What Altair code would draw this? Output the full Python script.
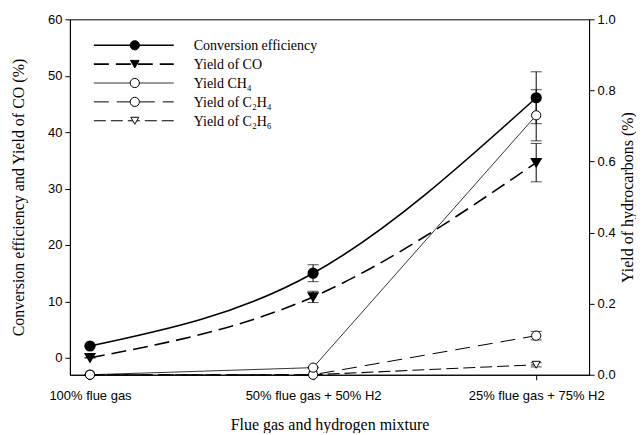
import altair as alt
import pandas as pd

# ---- data ----
mixtures = ["100% flue gas", "50% flue gas + 50% H2", "25% flue gas + 75% H2"]
conv = [2.1, 15.0, 46.1]
conv_err = [0.0, 1.5, 4.6]
co = [0.0, 10.8, 34.6]
co_err = [0.0, 1.0, 3.4]
ch4 = [0.0, 0.02, 0.73]
ch4_err = [0.0, 0.0, 0.072]
c2h4 = [0.0, 0.0, 0.11]
c2h4_err = [0.0, 0.0, 0.012]
c2h6 = [0.0, 0.0, 0.028]
c2h6_err = [0.0, 0.0, 0.006]

df = pd.DataFrame({"idx": list(range(len(mixtures))), "mix": mixtures})
for name, v, e in [("conv", conv, conv_err), ("co", co, co_err), ("ch4", ch4, ch4_err),
                   ("c2h4", c2h4, c2h4_err), ("c2h6", c2h6, c2h6_err)]:
    df[name] = v
    df[name + "_lo"] = [a - b for a, b in zip(v, e)]
    df[name + "_hi"] = [a + b for a, b in zip(v, e)]

label_js = "[" + ",".join("'" + m + "'" for m in mixtures) + "][datum.value]"

X = alt.X("idx:Q",
          scale=alt.Scale(domain=[-0.09, 2.237], nice=False, zero=False),
          axis=alt.Axis(values=[0, 1, 2], labelExpr=label_js, title="Flue gas and hydrogen mixture",
                        labelPadding=10, titlePadding=14))

axisL = alt.Axis(values=[0, 10, 20, 30, 40, 50, 60], title="Conversion efficiency and Yield of CO (%)",
                 titlePadding=21, labelPadding=3)
scaleL = alt.Scale(domain=[-3, 60], nice=False, zero=False)
axisR = alt.Axis(values=[0, 0.2, 0.4, 0.6, 0.8, 1.0], format=".1f", title="Yield of hydrocarbons (%)",
                 orient="right", titlePadding=4, titleAngle=270, titleBaseline="top", labelPadding=3)
scaleR = alt.Scale(domain=[0, 1], nice=False, zero=False)


def YL(f):
    return alt.Y(f + ":Q", scale=scaleL, axis=axisL)


def YR(f):
    return alt.Y(f + ":Q", scale=scaleR, axis=axisR)


base = alt.Chart(df)


def series(field, Yf, line_kw, point_kw, interp):
    line = base.mark_line(interpolate=interp, color="black", **line_kw).encode(x=X, y=Yf(field))
    rule = base.mark_rule(color="black", strokeWidth=1).encode(
        x=X, y=Yf(field + "_lo"), y2=alt.Y2(field + "_hi"))
    cap_lo = base.mark_tick(orient="horizontal", color="black", size=11, thickness=1).encode(
        x=X, y=Yf(field + "_lo"))
    cap_hi = base.mark_tick(orient="horizontal", color="black", size=11, thickness=1).encode(
        x=X, y=Yf(field + "_hi"))
    pts = base.mark_point(opacity=1, **point_kw).encode(x=X, y=Yf(field))
    return [line, rule, cap_lo, cap_hi, pts]


left_layers = []
left_layers += series("conv", YL, dict(strokeWidth=1.6),
                      dict(shape="circle", filled=True, fill="black", stroke="black", size=85), "natural")
left_layers += series("co", YL, dict(strokeWidth=1.6, strokeDash=[15, 7]),
                      dict(shape="triangle-down", filled=True, fill="black", stroke="black", size=75), "natural")

right_layers = []
right_layers += series("c2h6", YR, dict(strokeWidth=1.1, strokeDash=[12, 5]),
                       dict(shape="triangle-down", filled=True, fill="white", stroke="black", strokeWidth=1, size=65), "linear")
right_layers += series("c2h4", YR, dict(strokeWidth=1, strokeDash=[15, 8]),
                       dict(shape="circle", filled=True, fill="white", stroke="black", strokeWidth=1, size=85), "linear")
right_layers += series("ch4", YR, dict(strokeWidth=0.8),
                       dict(shape="circle", filled=True, fill="white", stroke="black", strokeWidth=1, size=85), "linear")

# ---- manual legend ----
legend_names = ["Conversion efficiency", "Yield of CO", "Yield CH\u2084", "Yield of C\u2082H\u2084", "Yield of C\u2082H\u2086"]
legend_line = [dict(strokeWidth=1.6), dict(strokeWidth=1.6, strokeDash=[15, 7]), dict(strokeWidth=0.8),
               dict(strokeWidth=1, strokeDash=[15, 8]), dict(strokeWidth=1.1, strokeDash=[12, 5])]
legend_mark = [dict(shape="circle", fill="black", size=85), dict(shape="triangle-down", fill="black", size=75),
               dict(shape="circle", fill="white", size=85), dict(shape="circle", fill="white", size=85),
               dict(shape="triangle-down", fill="white", size=65)]
one = alt.Data(values=[{"k": 1}])
legend_layers = []
for i, name in enumerate(legend_names):
    ypos = 26 + i * 18.9
    legend_layers.append(alt.Chart(one).mark_rule(color="black", **legend_line[i]).encode(
        x=alt.value(24), x2=alt.value(104), y=alt.value(ypos)))
    legend_layers.append(alt.Chart(one).mark_point(filled=True, stroke="black", strokeWidth=1, opacity=1,
                                                   **legend_mark[i]).encode(
        x=alt.value(65), y=alt.value(ypos)))
    legend_layers.append(alt.Chart(one).mark_text(align="left", baseline="middle", font="Liberation Serif",
                                                  fontSize=14, color="black").encode(
        x=alt.value(124), y=alt.value(ypos + 1), text=alt.value(name)))

left = alt.layer(*(left_layers + legend_layers))
right = alt.layer(*right_layers)

chart = alt.layer(left, right).resolve_scale(y="independent").properties(
    width=520, height=356, padding={"left": 2, "top": 5, "right": 0, "bottom": 0}
).configure_view(stroke="black", strokeWidth=1).configure_axis(
    grid=False, domainColor="black", tickColor="black", labelColor="black", titleColor="black",
    labelFont="Liberation Sans", labelFontSize=13, titleFont="Liberation Serif", titleFontSize=16,
    titleFontWeight="normal", tickSize=5, domainWidth=1, tickWidth=1
)

chart.save("out.html", embed_options={"renderer": "svg", "actions": False})
